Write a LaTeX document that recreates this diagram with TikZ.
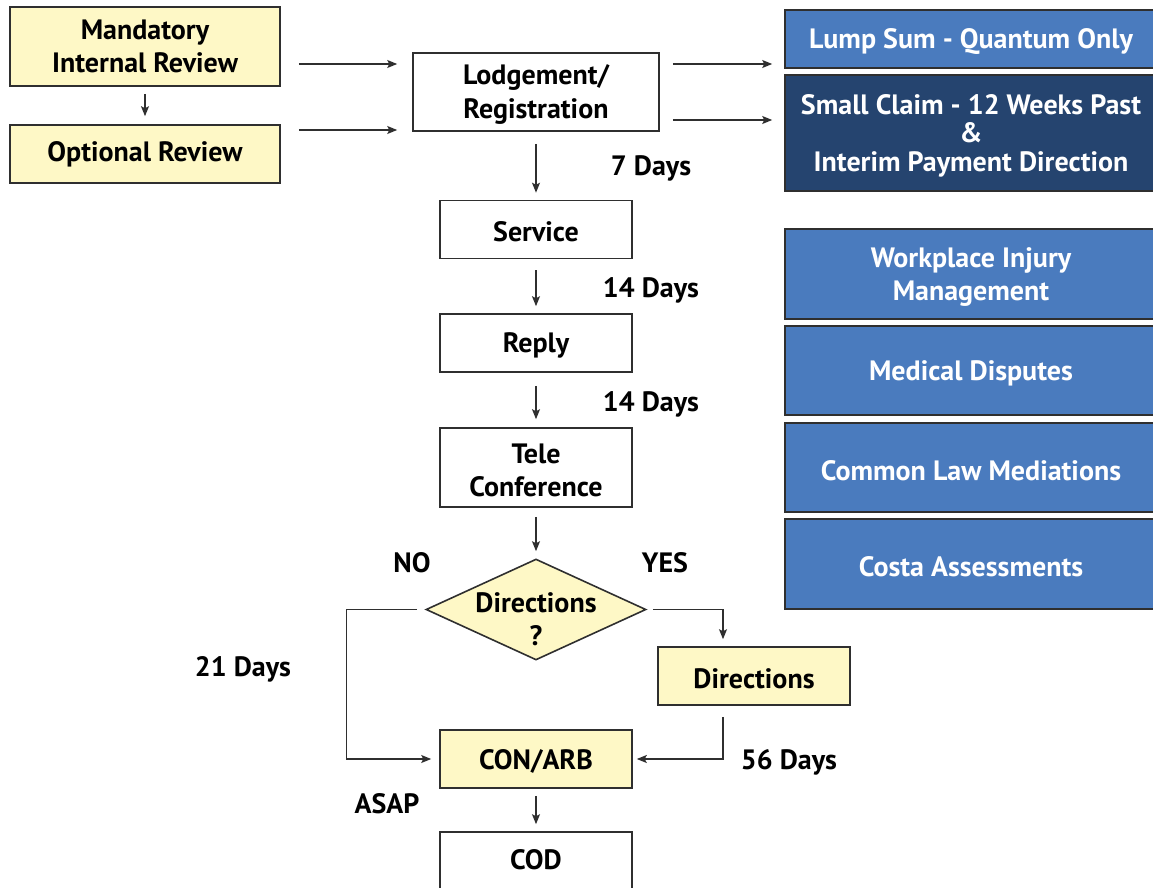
\documentclass[tikz,border=0pt]{standalone}
\usepackage{fontspec}
\setmainfont{PT Sans}
\usetikzlibrary{arrows.meta,shapes.geometric,calc}
\definecolor{yel}{HTML}{FEF8C6}
\definecolor{blu}{HTML}{4A7BBE}
\definecolor{navy}{HTML}{25446F}
\definecolor{edge}{HTML}{2F2F2F}
\begin{document}
\begin{tikzpicture}[x=1pt,y=-1pt,
  every node/.style={font=\fontsize{28}{33}\selectfont\bfseries, align=center, inner sep=0pt},
  box/.style={draw=edge, line width=1.6pt, minimum width=192pt, minimum height=58pt},
  ybox/.style={box, fill=yel},
  wbox/.style={box, fill=white},
  bbox/.style={box, fill=blu, minimum width=372pt},
  nbox/.style={bbox, fill=navy},
  bt/.style={label={[yshift=-2.5pt,text=black]center:{#1}}},
  lt/.style={label={[text=black]center:{#1}}},
  wt/.style={label={[yshift=-3pt,text=white]center:{#1}}},
  lbl/.style={text=black},
  arr/.style={draw=edge, line width=1.4pt, -{Stealth[length=10pt,width=8pt,inset=2pt]}}]
\useasboundingbox (0,0) rectangle (1153,888);
% left
\node[ybox, minimum width=270pt, minimum height=79pt, lt={Mandatory\\Internal Review}] (mir) at (145,46.5) {};
\node[ybox, minimum width=270pt, minimum height=58pt, lt={Optional Review}] (opt) at (145,154) {};
% main column
\node[wbox, minimum width=246pt, minimum height=78pt, bt={Lodgement/\\Registration}] (lodge) at (536,92) {};
\node[wbox, bt={Service}] (service) at (536,229.5) {};
\node[wbox, bt={Reply}] (reply) at (536,343) {};
\node[wbox, minimum height=79pt, bt={Tele\\Conference}] (tele) at (536,467.5) {};
\node[draw=edge, line width=1.6pt, fill=yel, shape=diamond, minimum width=220pt, minimum height=101pt] (dia) at (536,609.5) {};
\node[lbl] (diat) at (536,619) {Directions\\?};
\node[ybox, bt={Directions}] (dirs) at (754,676) {};
\node[ybox, bt={CON/ARB}] (conarb) at (536,759) {};
\node[wbox, minimum height=80pt] (cod) at (536,872) {};
\node[lbl] (codt) at (536,860) {COD};
% right column
\node[bbox, wt={Lump Sum - Quantum Only}] (lump) at (971,39) {};
\node[nbox, minimum height=116pt] (small) at (971,133) {};
\node[text=white, font=\fontsize{28}{28.5}\selectfont\bfseries] (smallt) at (971,135.5) {Small Claim - 12 Weeks Past\\\&\\Interim Payment Direction};
\node[bbox, minimum height=90pt, wt={Workplace Injury\\Management}] (wim) at (971,274) {};
\node[bbox, minimum height=89pt, wt={Medical Disputes}] (med) at (971,370.5) {};
\node[bbox, minimum height=89pt, wt={Common Law Mediations}] (cl) at (971,467.5) {};
\node[bbox, minimum height=90pt, wt={Costa Assessments}] (costa) at (971,564) {};
% labels
\node[lbl] (d7) at (651,168) {7 Days};
\node[lbl] (d14a) at (651,290) {14 Days};
\node[lbl] (d14b) at (651,404) {14 Days};
\node[lbl] (no) at (412,563) {NO};
\node[lbl] (yes) at (665,563) {YES};
\node[lbl] (d21) at (243,669) {21 Days};
\node[lbl] (d56) at (789,762) {56 Days};
\node[lbl] (asap) at (387,804) {ASAP};
% connectors
\draw[arr] ([shift={(0,7)}]mir.south) -- ([shift={(0,-8)}]opt.north);
\draw[arr] ([shift={(18,17.5)}]mir.east) -- ([shift={(-15,-28)}]lodge.west);
\draw[arr] ([shift={(18,-24)}]opt.east) -- ([shift={(-15,38)}]lodge.west);
\draw[arr] ([shift={(13,-28)}]lodge.east) -- ([shift={(-12,25)}]lump.west);
\draw[arr] ([shift={(13,28)}]lodge.east) -- ([shift={(-12,-13)}]small.west);
\draw[arr] ([shift={(0,12)}]lodge.south) -- ([shift={(0,-7)}]service.north);
\draw[arr] ([shift={(0,11)}]service.south) -- ([shift={(0,-7)}]reply.north);
\draw[arr] ([shift={(0,13)}]reply.south) -- ([shift={(0,-8)}]tele.north);
\draw[arr] ([shift={(0,9)}]tele.south) -- ([shift={(0,-7)}]dia.north);
\draw[arr] ([xshift=-8pt]dia.west) -- ++(-71,0) |- ([xshift=-8pt]conarb.west);
\draw[arr] ([xshift=6pt]dia.east) -| ([shift={(-31,-7)}]dirs.north);
\draw[arr] ([shift={(-31,11)}]dirs.south) |- ([xshift=4pt]conarb.east);
\draw[arr] ([shift={(0,7)}]conarb.south) -- ([shift={(0,-7)}]cod.north);
\end{tikzpicture}
\end{document}
